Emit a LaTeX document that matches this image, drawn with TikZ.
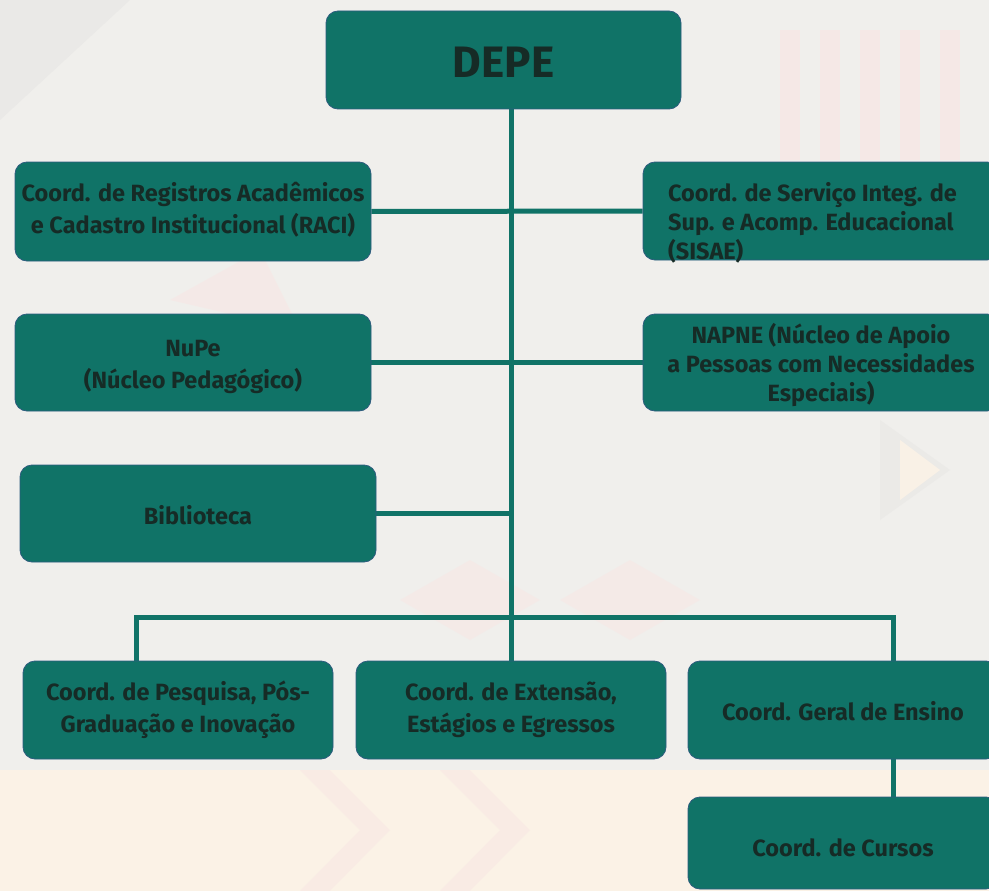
\documentclass[tikz,border=0pt]{standalone}
\usepackage{fontspec}
\setmainfont{Fira Sans}
\definecolor{boxfill}{HTML}{107367}
\definecolor{boxedge}{HTML}{2E5C7E}
\definecolor{txt}{HTML}{162B26}
\definecolor{bgbase}{HTML}{F0EFEC}
\definecolor{bgpink}{HTML}{F8E6E4}
\definecolor{bggray}{HTML}{E8E7E5}
\definecolor{bgcream}{HTML}{FBF2E6}
\pgfdeclarelayer{bglayer}
\pgfdeclarelayer{linelayer}
\pgfsetlayers{bglayer,linelayer,main}
\begin{document}
\begin{tikzpicture}[x=1pt,y=-1pt,
  box/.style={draw=boxedge,line width=0.8pt,fill=boxfill,rounded corners=12pt,inner sep=0pt},
  lbl/.style={text=txt,font=\bfseries\fontsize{23.5}{32}\selectfont,align=center,inner sep=0pt},
  tight/.style={font=\bfseries\fontsize{23.5}{29}\selectfont},
  conn/.style={draw=boxfill,line width=5pt}]
\begin{pgfonlayer}{bglayer}
\fill[bgbase] (0,0) rectangle (989,891);
\fill[bggray,opacity=0.7] (0,0) -- (130,0) -- (0,120) -- cycle;
\fill[bgpink,opacity=0.7] (780,30) rectangle (800,160);
\fill[bgpink,opacity=0.7] (820,30) rectangle (840,160);
\fill[bgpink,opacity=0.7] (860,30) rectangle (880,160);
\fill[bgpink,opacity=0.7] (900,30) rectangle (920,160);
\fill[bgpink,opacity=0.7] (940,30) rectangle (960,160);
\fill[bgpink,opacity=0.6] (170,300) -- (260,250) -- (300,330) -- cycle;
\fill[bgpink,opacity=0.5] (400,600) -- (470,560) -- (540,600) -- (470,640) -- cycle;
\fill[bgpink,opacity=0.5] (560,600) -- (630,560) -- (700,600) -- (630,640) -- cycle;
\fill[bgcream] (0,770) rectangle (989,891);
\fill[bgpink,opacity=0.5] (300,770) -- (360,830) -- (300,891) -- (330,891) -- (390,830) -- (330,770) -- cycle;
\fill[bgpink,opacity=0.5] (440,770) -- (500,830) -- (440,891) -- (470,891) -- (530,830) -- (470,770) -- cycle;
\fill[bggray,opacity=0.6] (880,420) -- (950,470) -- (880,520) -- cycle;
\fill[bgcream,opacity=0.9] (900,440) -- (940,470) -- (900,500) -- cycle;
\end{pgfonlayer}
\useasboundingbox (0,0) rectangle (989,891);
% boxes
\node[box,minimum width=355pt,minimum height=98pt] (depe) at (503.5,60) {};
\node[box,minimum width=356pt,minimum height=99pt] (raci) at (193,211.5) {};
\node[box,minimum width=356pt,minimum height=98pt] (sisae) at (821,211) {};
\node[box,minimum width=356pt,minimum height=97pt] (nupe) at (193,362.5) {};
\node[box,minimum width=356pt,minimum height=97pt] (napne) at (821,362.5) {};
\node[box,minimum width=356pt,minimum height=97pt] (bib) at (198,513.5) {};
\node[box,minimum width=310pt,minimum height=98pt] (pesq) at (178,710) {};
\node[box,minimum width=310pt,minimum height=98pt] (ext) at (511,710) {};
\node[box,minimum width=310pt,minimum height=98pt] (geral) at (843,710) {};
\node[box,minimum width=310pt,minimum height=92pt] (cursos) at (843,843) {};
% texts
\node[lbl,font=\bfseries\fontsize{44}{50}\selectfont,yshift=-2pt] (depet) at (depe) {DEPE};
\node[lbl,yshift=2pt] (racit) at (raci) {Coord. de Registros Acadêmicos\\e Cadastro Institucional (RACI)};
\node[lbl,tight,align=left,anchor=north west] (sisaet) at (668,182) {Coord. de Serviço Integ. de\\Sup. e Acomp. Educacional\\(SISAE)};
\node[lbl,yshift=-4pt] (nupet) at (nupe) {NuPe\\(Núcleo Pedagógico)};
\node[lbl,tight,yshift=-3pt] (napnet) at (napne) {NAPNE (Núcleo de Apoio\\a Pessoas com Necessidades\\Especiais)};
\node[lbl,yshift=-2pt] (bibt) at (bib) {Biblioteca};
\node[lbl] (pesqt) at (pesq) {Coord. de Pesquisa, Pós-\\Graduação e Inovação};
\node[lbl] (extt) at (ext) {Coord. de Extensão,\\Estágios e Egressos};
\node[lbl,yshift=-1pt] (geralt) at (geral) {Coord. Geral de Ensino};
\node[lbl,yshift=-5pt] (cursost) at (cursos) {Coord. de Cursos};
\coordinate (bus) at (511,617);
\coordinate (pdrop) at (136,661);
\coordinate (gdrop) at (893,661);
\begin{pgfonlayer}{linelayer}
\draw[conn] (ext.north |- depe.south) -- (ext.north);
\draw[conn] (raci.east) -- (sisae.west);
\draw[conn] (nupe.east) -- (napne.west);
\draw[conn] (bib.east) -- (bib.east -| ext.north);
\draw[conn] (pdrop) -- (pdrop |- bus) -- (gdrop |- bus) -- (gdrop);
\draw[conn] (geral.south -| gdrop) -- (cursos.north -| gdrop);
\end{pgfonlayer}
\end{tikzpicture}
\end{document}
